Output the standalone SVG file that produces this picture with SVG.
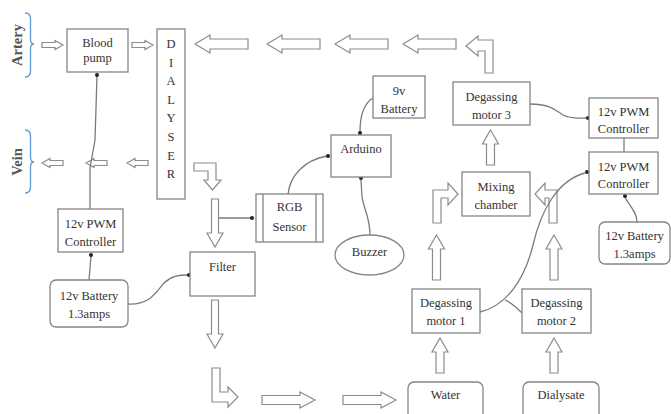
<svg xmlns="http://www.w3.org/2000/svg" xmlns:xlink="http://www.w3.org/1999/xlink" width="671" height="414" viewBox="0 0 671 414" font-family="'Liberation Serif', 'Times New Roman', serif">
<style>
.bx{fill:#fff;stroke:#858585;stroke-width:1.3}
.ba{fill:#fff;stroke:#8c8c8c;stroke-width:1.2;stroke-linejoin:miter}
.t{font-family:'Liberation Serif','Times New Roman',serif;font-size:12.5px;fill:#333;text-anchor:middle}
.lt{font-family:'Liberation Serif','Times New Roman',serif;font-size:14.5px;font-weight:bold;fill:#555;text-anchor:middle}
.ln{fill:none;stroke:#7a7a7a;stroke-width:1.3}
.br{fill:none;stroke:#5b9bd5;stroke-width:1.3}
.dot{fill:#222}
</style>
<defs>
<path id="sR" d="M0,-2.5H13V-4.5L21,0L13,4.5V2.5H0Z"/>
<path id="sL" d="M0,0L8,-4.5V-2.5H21V2.5H8V4.5Z"/>
<path id="bL" d="M0,0L15,-9V-5H53V5H15V9Z"/>
<path id="bR" d="M0,-4.5H38V-8L53,0L38,8V4.5H0Z"/>
<path id="vD" d="M-3.5,0H3.5V34H8L0,48L-8,34H-3.5Z"/>
<path id="uL" d="M0,0L8,14H4V45H-4V14H-8Z"/>
<path id="uS" d="M0,0L8,14H4V35H-4V14H-8Z"/>
</defs>

<!-- labels / braces -->
<g id="artery">
<path class="br" d="M25,13Q30.5,13 30.5,19V39Q30.5,44 34,44Q30.5,44 30.5,49V71Q30.5,77 25,77"/>
<text class="lt" transform="translate(22,45) rotate(-90)">Artery</text>
</g>
<g id="vein">
<path class="br" d="M25,130Q30.5,130 30.5,136V157Q30.5,162 34,162Q30.5,162 30.5,167V187Q30.5,193 25,193"/>
<text class="lt" transform="translate(22,162) rotate(-90)">Vein</text>
</g>

<!-- block arrows -->
<g id="flow-arrows" class="ba">
<use href="#sR" transform="translate(42,45)"/>
<use href="#sR" transform="translate(132,45)"/>
<use href="#sL" transform="translate(42,163)"/>
<use href="#sL" transform="translate(86,163)"/>
<use href="#sL" transform="translate(127,163)"/>
<use href="#bL" transform="translate(195,44)"/>
<use href="#bL" transform="translate(267,44)"/>
<use href="#bL" transform="translate(335,44)"/>
<use href="#bL" transform="translate(403,44)"/>
<path d="M493,73V40H478V36L466,46L478,56V51H485V73Z"/>
<use href="#uS" transform="translate(490.5,130)"/>
<path d="M194,163H216V180H221L212.5,190L204,180H208V171H194Z"/>
<use href="#vD" transform="translate(215,199)"/>
<use href="#vD" transform="translate(215,300)"/>
<path d="M212,368H220V392H228V387L238,397L228,407V402H212Z"/>
<use href="#bR" transform="translate(262,400)"/>
<use href="#bR" transform="translate(343,400)"/>
<path d="M433,223V190H448V183L458,194L448,205V198H441V223Z"/>
<path d="M557,223V190H545V183L535,194L545,205V198H549V223Z"/>
<use href="#uL" transform="translate(436.5,235)"/>
<use href="#uL" transform="translate(554,235)"/>
<use href="#uS" transform="translate(440,338)"/>
<use href="#uS" transform="translate(554,338)"/>
</g>

<!-- connectors -->
<g id="connectors">
<path class="ln" d="M90,209V168L95,140L97,76"/>
<circle class="dot" cx="97" cy="75" r="2"/>
<path class="ln" d="M89,280L91,256"/>
<circle class="dot" cx="91" cy="255" r="2"/>
<path class="ln" d="M128,304C150,305 156,292 164,283C171,276 179,275 188,275"/>
<circle class="dot" cx="189" cy="275" r="2"/>
<path class="ln" d="M219,218H252"/>
<circle class="dot" cx="252" cy="218" r="2"/>
<path class="ln" d="M288,194C290,176 304,160 327,156"/>
<circle class="dot" cx="328" cy="156" r="2"/>
<path class="ln" d="M373,98C363,104 360,118 360,132"/>
<circle class="dot" cx="360" cy="133" r="2"/>
<path class="ln" d="M370,235C370,216 363,208 362,196L361,180"/>
<circle class="dot" cx="361" cy="178" r="2"/>
<path class="ln" d="M530,104C550,104 555,110 563,115C570,119 578,118 586,118"/>
<circle class="dot" cx="588" cy="118" r="2"/>
<path class="ln" d="M624,138V152"/>
<path class="ln" d="M637,222C637,211 629,206 625,197"/>
<circle class="dot" cx="625" cy="196" r="2"/>
<path class="ln" d="M480,312C505,306 524,282 533,245C541,210 558,180 585,173"/>
<circle class="dot" cx="587" cy="172" r="2"/>
<path class="ln" d="M522,313C515,306 510,302 505,300"/>
</g>

<!-- nodes -->
<g id="blood-pump">
<rect class="bx" x="67" y="29" width="61" height="43"/>
<text class="t" x="97.5" y="47">Blood</text>
<text class="t" x="97.5" y="62">pump</text>
</g>
<g id="dialyser">
<rect class="bx" x="157" y="29" width="28" height="170"/>
<text class="t" x="171" y="48">D</text>
<text class="t" x="171" y="66.6">I</text>
<text class="t" x="171" y="85.2">A</text>
<text class="t" x="171" y="103.8">L</text>
<text class="t" x="171" y="122.4">Y</text>
<text class="t" x="171" y="141">S</text>
<text class="t" x="171" y="159.6">E</text>
<text class="t" x="171" y="178.2">R</text>
</g>
<g id="pwm-left">
<rect class="bx" x="58" y="209" width="65" height="43"/>
<text class="t" x="90.5" y="228">12v PWM</text>
<text class="t" x="90.5" y="246">Controller</text>
</g>
<g id="battery-left">
<rect class="bx" x="50" y="280" width="78" height="47" rx="6"/>
<text class="t" x="89" y="300">12v Battery</text>
<text class="t" x="89" y="318">1.3amps</text>
</g>
<g id="filter">
<rect class="bx" x="190" y="252" width="65" height="44"/>
<text class="t" x="222.5" y="271">Filter</text>
</g>
<g id="rgb-sensor">
<rect class="bx" x="256" y="194" width="67" height="48"/>
<path class="bx" d="M263,194V242M316,194V242"/>
<text class="t" x="289.5" y="211">RGB</text>
<text class="t" x="289.5" y="231">Sensor</text>
</g>
<g id="battery-9v">
<rect class="bx" x="373" y="76" width="52" height="42"/>
<text class="t" x="399" y="95">9v</text>
<text class="t" x="399" y="113">Battery</text>
</g>
<g id="arduino">
<rect class="bx" x="331" y="135" width="60" height="42"/>
<text class="t" x="361" y="153">Arduino</text>
</g>
<g id="buzzer">
<ellipse class="bx" cx="369.5" cy="255" rx="34.5" ry="20"/>
<text class="t" x="369.5" y="256">Buzzer</text>
</g>
<g id="degassing-motor-3">
<rect class="bx" x="453" y="82" width="77" height="43"/>
<text class="t" x="491.5" y="101">Degassing</text>
<text class="t" x="491.5" y="119">motor 3</text>
</g>
<g id="pwm-right-top">
<rect class="bx" x="589" y="98" width="69" height="40"/>
<text class="t" x="623.5" y="116">12v PWM</text>
<text class="t" x="623.5" y="133">Controller</text>
</g>
<g id="pwm-right-bottom">
<rect class="bx" x="589" y="152" width="69" height="42"/>
<text class="t" x="623.5" y="171">12v PWM</text>
<text class="t" x="623.5" y="188">Controller</text>
</g>
<g id="mixing-chamber">
<rect class="bx" x="462" y="172" width="68" height="44"/>
<text class="t" x="496" y="191">Mixing</text>
<text class="t" x="496" y="209">chamber</text>
</g>
<g id="battery-right">
<rect class="bx" x="599" y="222" width="71" height="42" rx="6"/>
<text class="t" x="634.5" y="240">12v Battery</text>
<text class="t" x="634.5" y="258">1.3amps</text>
</g>
<g id="degassing-motor-1">
<rect class="bx" x="412" y="289" width="68" height="44"/>
<text class="t" x="446" y="307">Degassing</text>
<text class="t" x="446" y="325">motor 1</text>
</g>
<g id="degassing-motor-2">
<rect class="bx" x="522" y="289" width="69" height="44"/>
<text class="t" x="556.5" y="307">Degassing</text>
<text class="t" x="556.5" y="325">motor 2</text>
</g>
<g id="water">
<rect class="bx" x="408" y="382" width="75" height="40" rx="6"/>
<text class="t" x="445.5" y="399">Water</text>
</g>
<g id="dialysate">
<rect class="bx" x="523" y="382" width="76" height="40" rx="6"/>
<text class="t" x="561" y="399">Dialysate</text>
</g>
</svg>
